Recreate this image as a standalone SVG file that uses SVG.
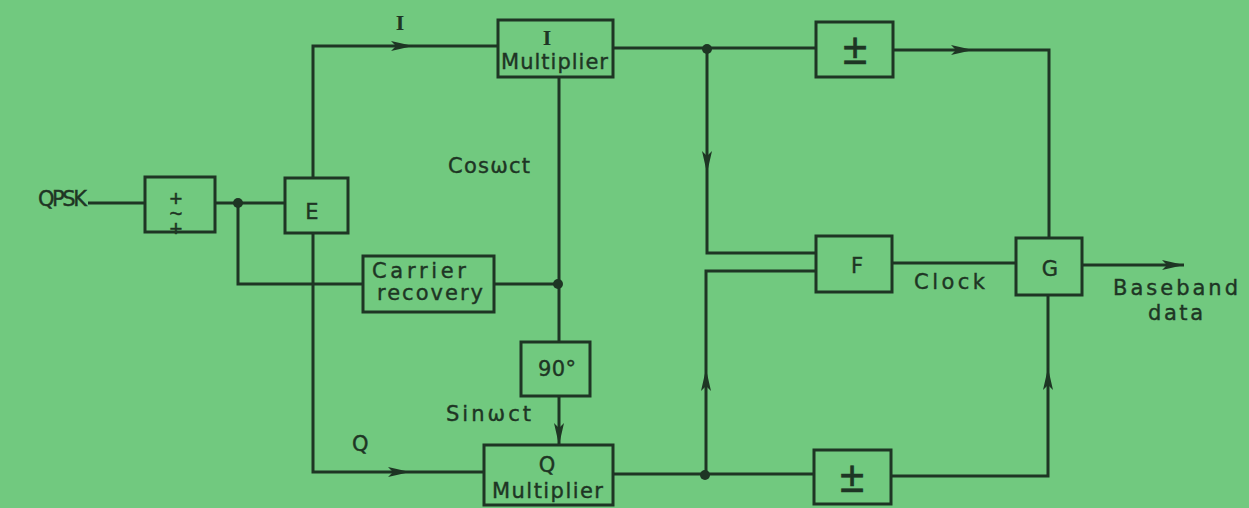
<svg xmlns="http://www.w3.org/2000/svg" width="1249" height="508" viewBox="0 0 1249 508">
<defs>
<style>
.bg{fill:#71c97f}
.box{fill:none;stroke:#1e3524;stroke-width:3}
.ln{fill:none;stroke:#1e3524;stroke-width:3}
.arr{fill:none;stroke:#1e3524;stroke-width:3;marker-end:url(#ah)}
.dot{fill:#1e3524}
.t{font-family:"DejaVu Sans","Liberation Sans",sans-serif;fill:#1e3524;font-size:21px;stroke:#1e3524;stroke-width:0.4}
.c{text-anchor:middle}
.sym{font-family:"Liberation Sans",sans-serif;fill:#1e3524;text-anchor:middle;stroke:#1e3524;stroke-width:0.5}
.serif{font-family:"Liberation Serif",serif;fill:#1e3524;text-anchor:middle;font-size:22px;font-weight:bold}
.vert{writing-mode:vertical-rl;text-orientation:upright}
</style>
<marker id="ah" viewBox="0 0 22 10" refX="22" refY="5" markerWidth="22" markerHeight="10" markerUnits="userSpaceOnUse" orient="auto">
<path d="M0,0 L22,5 L0,10 L5,5 Z" fill="#1e3524"/>
</marker>
</defs>
<rect class="bg" x="0" y="0" width="1249" height="508"/>

<g id="connectors">
<path class="ln" d="M88,203 H145"/>
<path class="ln" d="M215,203 H285"/>
<path class="ln" d="M238,203 V284 H363"/>
<path class="arr" d="M313,178 V46 H413"/>
<path class="ln" d="M413,46 H498"/>
<path class="arr" d="M313,233 V472 H410"/>
<path class="ln" d="M410,472 H484"/>
<path class="ln" d="M559,77 V342"/>
<path class="ln" d="M494,284 H559"/>
<path class="arr" d="M559,396 V445"/>
<path class="ln" d="M613,48 H816"/>
<path class="arr" d="M893,50 H973"/>
<path class="ln" d="M973,50 H1049 V238"/>
<path class="arr" d="M707,49 V173"/>
<path class="ln" d="M707,173 V253 H816"/>
<path class="ln" d="M613,474 H814"/>
<path class="arr" d="M706,475 V369"/>
<path class="ln" d="M706,369 V271 H816"/>
<path class="ln" d="M891,476 H1048 V392"/>
<path class="arr" d="M1048,392 V368"/>
<path class="ln" d="M1048,368 V295"/>
<path class="ln" d="M892,263 H1016"/>
<path class="arr" d="M1082,265 H1184"/>
<circle class="dot" cx="238" cy="203" r="5"/>
<circle class="dot" cx="558" cy="284" r="5"/>
<circle class="dot" cx="707" cy="49" r="5"/>
<circle class="dot" cx="705" cy="475" r="5"/>
</g>

<g id="label-qpsk"><text class="t" x="38" y="206" font-size="16" textLength="49" lengthAdjust="spacing">QPSK</text></g>

<g id="node-limiter">
<rect class="box" x="145" y="177" width="70" height="55"/>
<text class="sym vert" x="176" y="208" font-size="22" letter-spacing="-10">+~+</text>
</g>

<g id="node-e">
<rect class="box" x="285" y="178" width="63" height="55"/>
<text class="t c" x="312" y="219" font-size="23">E</text>
</g>

<g id="label-i"><text class="serif" x="400" y="30">I</text></g>
<g id="label-q"><text class="t" x="352" y="451" font-size="22">Q</text></g>

<g id="node-imult">
<rect class="box" x="498" y="20" width="115" height="57"/>
<text class="serif" x="547" y="45" font-size="20">I</text>
<text class="t" x="501" y="69" textLength="107" lengthAdjust="spacing">Multiplier</text>
</g>

<g id="label-cos"><text class="t" x="448" y="173" textLength="82" lengthAdjust="spacing">Cosωct</text></g>

<g id="node-carrier">
<rect class="box" x="363" y="256" width="131" height="56"/>
<text class="t" x="372" y="278" font-size="17" textLength="94" lengthAdjust="spacing">Carrier</text>
<text class="t" x="377" y="300" font-size="17" textLength="106" lengthAdjust="spacing">recovery</text>
</g>

<g id="node-90">
<rect class="box" x="521" y="342" width="69" height="54"/>
<text class="t" x="538" y="376" textLength="38" lengthAdjust="spacing">90°</text>
</g>

<g id="label-sin"><text class="t" x="446" y="421" textLength="85" lengthAdjust="spacing">Sinωct</text></g>

<g id="node-qmult">
<rect class="box" x="484" y="445" width="129" height="60"/>
<text class="t c" x="547" y="472" font-size="22">Q</text>
<text class="t" x="492" y="498" textLength="111" lengthAdjust="spacing">Multiplier</text>
</g>

<g id="node-slicer-i">
<rect class="box" x="816" y="22" width="77" height="55"/>
<text class="sym" x="855" y="64" font-size="44">±</text>
</g>

<g id="node-slicer-q">
<rect class="box" x="814" y="450" width="77" height="54"/>
<text class="sym" x="852" y="492" font-size="44">±</text>
</g>

<g id="node-f">
<rect class="box" x="816" y="236" width="76" height="56"/>
<text class="t c" x="857" y="273" font-size="22">F</text>
</g>

<g id="label-clock"><text class="t" x="914" y="289" textLength="71" lengthAdjust="spacing">Clock</text></g>

<g id="node-g">
<rect class="box" x="1016" y="238" width="66" height="57"/>
<text class="t c" x="1050" y="276" font-size="23">G</text>
</g>

<g id="label-baseband">
<text class="t" x="1113" y="295" textLength="125" lengthAdjust="spacing">Baseband</text>
<text class="t" x="1148" y="320" textLength="55" lengthAdjust="spacing">data</text>
</g>
</svg>
